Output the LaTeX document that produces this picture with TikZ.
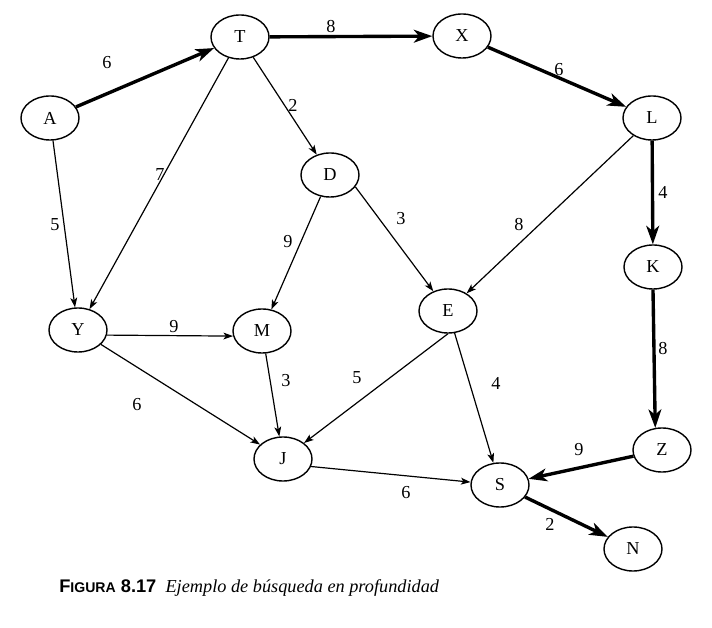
\documentclass[tikz,border=0pt]{standalone}
\usepackage{fontspec}
\setmainfont{Liberation Serif}
\setsansfont{Liberation Sans}
\usetikzlibrary{arrows.meta,shapes.geometric}

\begin{document}
\begin{tikzpicture}[x=0.025cm,y=-0.025cm]

\tikzstyle{vert} = [ellipse, draw=black, line width=1pt, minimum width=1.45cm,
  minimum height=1.1cm, inner sep=0pt, font=\fontsize{13}{15}\selectfont]
\tikzstyle{other} = [line width=0.85pt, -{Stealth[length=2.4mm,width=1.7mm,inset=0.6mm]}]
\tikzstyle{dfs} = [line width=2.4pt, -{Stealth[length=4.6mm,width=3.2mm,inset=1.3mm]}]
\tikzstyle{wt} = [anchor=center, inner sep=1pt, font=\fontsize{13}{15}\selectfont]

\useasboundingbox (0,0) rectangle (712,628);

% vertices
\node[vert, at={(50,118)}] (A) {A};
\node[vert, at={(240,37)}] (T) {T};
\node[vert, at={(462,36)}] (X) {X};
\node[vert, at={(652,118)}] (L) {L};
\node[vert, at={(330,175)}] (D) {D};
\node[vert, at={(653,267)}] (K) {K};
\node[vert, at={(78,330)}] (Y) {Y};
\node[vert, at={(262,331)}] (M) {M};
\node[vert, at={(448,311)}] (E) {E};
\node[vert, at={(283,459)}] (J) {J};
\node[vert, at={(662,450)}] (Z) {Z};
\node[vert, at={(500,485)}] (S) {S};
\node[vert, at={(633,549)}] (N) {N};

% search tree
\draw[dfs] (A) -- (T);
\draw[dfs] (T) -- (X);
\draw[dfs] (X) -- (L);
\draw[dfs] (L) -- (K);
\draw[dfs] (K.south) -- (Z.107);
\draw[dfs] (Z) -- (S);
\draw[dfs] (S) -- (N);

% remaining arcs
\draw[other] (A) -- (Y);
\draw[other] (T) -- (Y);
\draw[other] (T) -- (D);
\draw[other] (D) -- (M);
\draw[other] (D.-25) -- (E);
\draw[other] (L) -- (E);
\draw[other] (Y.-10) -- (M.190);
\draw[other] (Y) -- (J);
\draw[other] (M) -- (J);
\draw[other] (E.south) -- (J);
\draw[other] (E) -- (S);
\draw[other] (J.-15) -- (S);

% weights
\node[wt, at={(107,63)}] (wAT) {6};
\node[wt, at={(331,27)}] (wTX) {8};
\node[wt, at={(559,70)}] (wXL) {6};
\node[wt, at={(663,192)}] (wLK) {4};
\node[wt, at={(663,349)}] (wKZ) {8};
\node[wt, at={(579,450)}] (wZS) {9};
\node[wt, at={(550,524)}] (wSN) {2};
\node[wt, at={(55,225)}] (wAY) {5};
\node[wt, at={(160,175)}] (wTY) {7};
\node[wt, at={(293,105)}] (wTD) {2};
\node[wt, at={(288,242)}] (wDM) {9};
\node[wt, at={(401,219)}] (wDE) {3};
\node[wt, at={(519,225)}] (wLE) {8};
\node[wt, at={(174,327)}] (wYM) {9};
\node[wt, at={(137,405)}] (wYJ) {6};
\node[wt, at={(286,381)}] (wMJ) {3};
\node[wt, at={(357,378)}] (wEJ) {5};
\node[wt, at={(496,383)}] (wES) {4};
\node[wt, at={(406,493)}] (wJS) {6};

% caption
\node[anchor=west, inner sep=0pt, at={(59,588)}, font=\fontsize{13}{15}\selectfont] (cap)
  {{\sffamily\bfseries F{\fontsize{10}{12}\selectfont IGURA} 8.17}\enspace
   \textit{Ejemplo de búsqueda en profundidad}};

\end{tikzpicture}
\end{document}
